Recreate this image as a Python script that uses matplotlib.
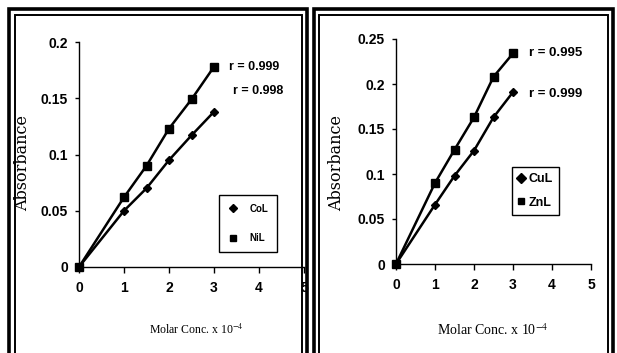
import matplotlib
matplotlib.use("Agg")
import matplotlib.pyplot as plt
from matplotlib.lines import Line2D
from matplotlib.patches import Rectangle

plt.rcParams['mathtext.fontset'] = 'stix'

# ---- data ----
conc = [0, 1, 1.5, 2, 2.5, 3]
col_abs = [0, 0.050, 0.070, 0.095, 0.117, 0.138]
nil_abs = [0, 0.062, 0.090, 0.123, 0.149, 0.178]
cul_abs = [0, 0.066, 0.098, 0.126, 0.163, 0.191]
znl_abs = [0, 0.090, 0.127, 0.163, 0.208, 0.234]
left_yticks = [0, 0.05, 0.1, 0.15, 0.2]
left_yticklabels = ['0', '0.05', '0.1', '0.15', '0.2']
right_yticks = [0, 0.05, 0.1, 0.15, 0.2, 0.25]
right_yticklabels = ['0', '0.05', '0.1', '0.15', '0.2', '0.25']
xticks = [0, 1, 2, 3, 4, 5]
left_r = ['r = 0.999', 'r = 0.998']
right_r = ['r = 0.995', 'r = 0.999']

W, H = 617, 353
fig = plt.figure(figsize=(W / 100, H / 100), dpi=100)
fig.patch.set_facecolor('white')


def px(x, y):
    return x / W, 1 - y / H


def rect(x0, y0, x1, y1, lw):
    fx0, fy0 = px(x0, y1)
    fx1, fy1 = px(x1, y0)
    fig.add_artist(Rectangle((fx0, fy0), fx1 - fx0, fy1 - fy0, transform=fig.transFigure,
                             fill=False, edgecolor='black', linewidth=lw, clip_on=False))


# frames (double lines)
rect(9, 9, 307, 380, 2.6)
rect(15, 15, 302, 380, 1.4)
rect(314, 9, 613, 380, 2.6)
rect(319, 15, 608, 380, 1.4)

SANS = ['Liberation Sans', 'DejaVu Sans']
SERIF = ['DejaVu Serif']


def make_axes(rect_px, ymax, yticks, yticklabels):
    x0, y0, x1, y1 = rect_px
    ax = fig.add_axes([x0 / W, 1 - y1 / H, (x1 - x0) / W, (y1 - y0) / H])
    ax.set_xlim(0, 5)
    ax.set_ylim(0, ymax)
    for s in ['top', 'right']:
        ax.spines[s].set_visible(False)
    for s in ['left', 'bottom']:
        ax.spines[s].set_linewidth(1.0)
        ax.spines[s].set_color('black')
    ax.set_xticks(xticks)
    ax.set_xticklabels([str(t) for t in xticks], fontfamily=SANS, fontweight='bold', fontsize=10)
    ax.set_yticks(yticks)
    ax.set_yticklabels(yticklabels, fontfamily=SANS, fontweight='bold', fontsize=10)
    ax.tick_params(axis='y', direction='out', length=3, width=1, pad=5)
    ax.tick_params(axis='x', direction='out', length=4, width=1, pad=6)
    ax.patch.set_alpha(0)
    return ax


axL = make_axes((79, 42, 304, 267), 0.2, left_yticks, left_yticklabels)
axR = make_axes((396, 39, 591, 264), 0.25, right_yticks, right_yticklabels)

for ax, a1, a2 in [(axL, col_abs, nil_abs), (axR, cul_abs, znl_abs)]:
    ax.plot(conc, a1, color='black', lw=1.8, marker='D', markersize=4.5, clip_on=False, zorder=3)
    ax.plot(conc, a2, color='black', lw=1.8, marker='s', markersize=5.5, clip_on=False, zorder=3)

# r labels
axL.text(3.33, 0.178, left_r[0], fontfamily=SANS, fontweight='bold', fontsize=9, va='center', ha='left')
axL.text(3.42, 0.156, left_r[1], fontfamily=SANS, fontweight='bold', fontsize=9, va='center', ha='left')
axR.text(3.41, 0.234, right_r[0], fontfamily=SANS, fontweight='bold', fontsize=9.5, va='center', ha='left')
axR.text(3.41, 0.189, right_r[1], fontfamily=SANS, fontweight='bold', fontsize=9.5, va='center', ha='left')

# axis labels
fig.text(*px(23, 163), 'Absorbance', fontfamily=SERIF, fontsize=11.5, rotation=90,
         ha='center', va='center')
fig.text(*px(337, 163), 'Absorbance', fontfamily=SERIF, fontsize=11.5, rotation=90,
         ha='center', va='center')
fig.text(*px(196, 330), 'Molar Conc. x 10$^{-4}$', fontfamily=['Liberation Serif'],
         fontsize=8.5, ha='center', va='center')
fig.text(*px(493, 330), 'Molar Conc. x 10$^{-4}$', fontfamily=['Liberation Serif'],
         fontsize=10, ha='center', va='center')

# legends
hL = [Line2D([], [], color='black', marker='D', ls='none', markersize=4),
      Line2D([], [], color='black', marker='s', ls='none', markersize=5)]
legL = axL.legend(hL, ['CoL', 'NiL'], loc='upper left', bbox_to_anchor=px(219, 195),
                  bbox_transform=fig.transFigure, borderaxespad=0, frameon=True, fancybox=False,
                  edgecolor='black', prop={'family': SANS, 'weight': 'bold', 'size': 7},
                  labelspacing=2.0, handlelength=1.0, handletextpad=1.2, borderpad=0.9)
legL.get_frame().set_linewidth(1.0)
legL.get_frame().set_alpha(1)

hR = [Line2D([], [], color='black', marker='D', ls='none', markersize=5),
      Line2D([], [], color='black', marker='s', ls='none', markersize=5)]
legR = axR.legend(hR, ['CuL', 'ZnL'], loc='upper left', bbox_to_anchor=px(512, 167),
                  bbox_transform=fig.transFigure, borderaxespad=0, frameon=True, fancybox=False,
                  edgecolor='black', prop={'family': SANS, 'weight': 'bold', 'size': 9},
                  labelspacing=0.9, handlelength=0.5, handletextpad=0.3, borderpad=0.5)
legR.get_frame().set_linewidth(1.0)
legR.get_frame().set_alpha(1)

fig.savefig('out.png', dpi=100)
